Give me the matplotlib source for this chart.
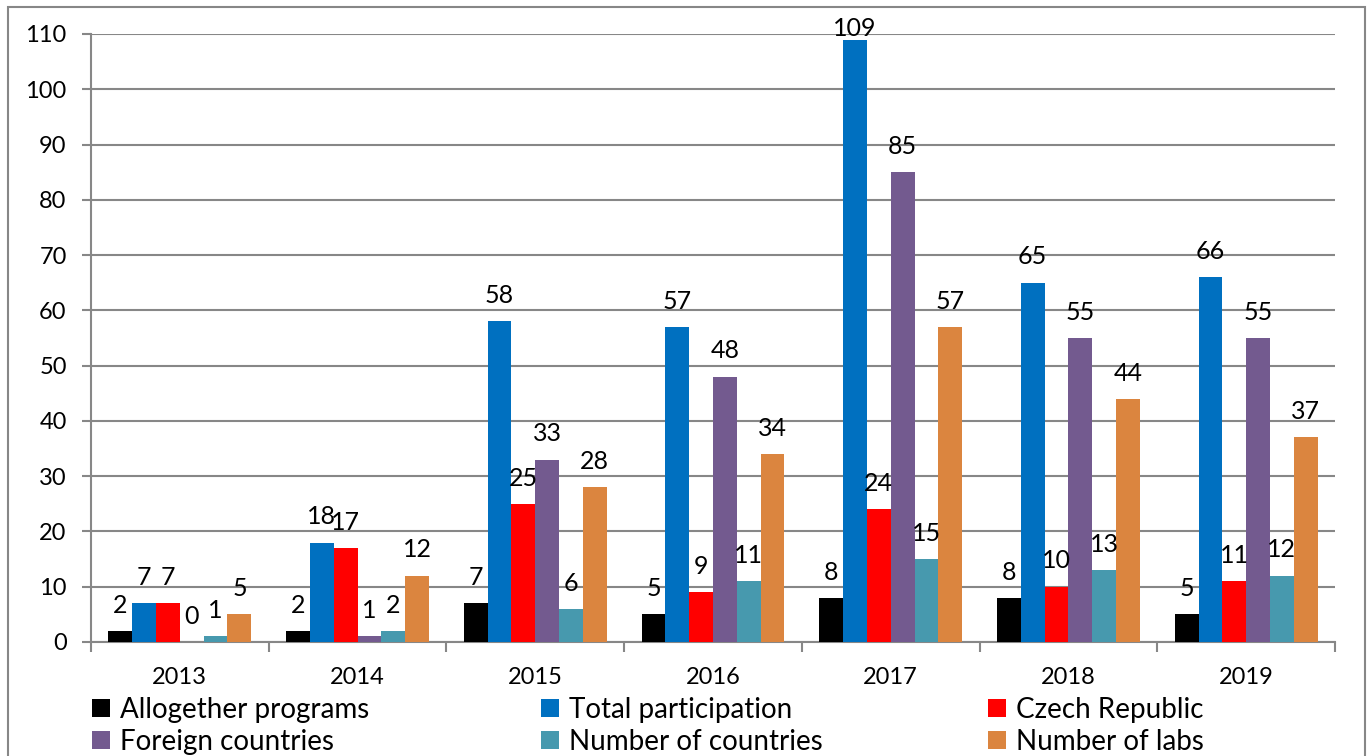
import matplotlib
matplotlib.use("Agg")
from matplotlib import pyplot as plt
from matplotlib.patches import Rectangle
import numpy as np

plt.rcParams.update({"font.family": ["Lato", "DejaVu Sans"], "font.size": 17})

years = ["2013", "2014", "2015", "2016", "2017", "2018", "2019"]
series_names = [
    "Allogether programs",
    "Total participation",
    "Czech Republic",
    "Foreign countries",
    "Number of countries",
    "Number of labs",
]
allogether = [2, 2, 7, 5, 8, 8, 5]
total_participation = [7, 18, 58, 57, 109, 65, 66]
czech = [7, 17, 25, 9, 24, 10, 11]
foreign = [0, 1, 33, 48, 85, 55, 55]
n_countries = [1, 2, 6, 11, 15, 13, 12]
n_labs = [5, 12, 28, 34, 57, 44, 37]
series = [allogether, total_participation, czech, foreign, n_countries, n_labs]
colors = ["#000000", "#0070C0", "#FF0000", "#735A8F", "#4799AE", "#DB853F"]

grid_color = "#878787"

fig = plt.figure(figsize=(13.69, 7.56), dpi=100)
ax = fig.add_axes([91 / 1369, 1 - 642 / 756, (1335 - 91) / 1369, (642 - 34) / 756])

x = np.arange(len(years))
bar_w = 0.134
handles = []
for i, (vals, col) in enumerate(zip(series, colors)):
    offs = (i - 2.5) * bar_w
    bars = ax.bar(x + offs, vals, bar_w, color=col, label=series_names[i], zorder=3)
    handles.append(bars)
    for xi, v in zip(x + offs, vals):
        # labels sit above the bar, but are kept inside the plot area (like excel)
        y_lab = min(v + 3.3, 109.6)
        ax.text(xi, y_lab, str(v), ha="center", va="baseline", fontsize=18,
                zorder=4, clip_on=False)

ax.set_xlim(-0.5, len(years) - 0.5)
ax.set_ylim(0, 110)
ax.set_yticks(np.arange(0, 111, 10))
ax.yaxis.grid(True, color=grid_color, linewidth=1.5, zorder=0)
ax.set_xticks(x)
ax.set_xticklabels(years)
ax.set_xticks(np.arange(-0.5, len(years)), minor=True)
ax.tick_params(axis="x", which="major", length=0, pad=18)
ax.tick_params(axis="x", which="minor", length=7, width=1.5, color=grid_color)
ax.tick_params(axis="y", length=6.5, width=1.5, color=grid_color, pad=11)
for s in ["top", "right"]:
    ax.spines[s].set_visible(False)
for s in ["left", "bottom"]:
    ax.spines[s].set_color(grid_color)
    ax.spines[s].set_linewidth(1.5)

# legend: three columns, two rows
col_x = [92 / 1369, 541 / 1369, 988 / 1369]
pairs = [(0, 3), (1, 4), (2, 5)]
for cx, (a, b) in zip(col_x, pairs):
    fig.legend([handles[a], handles[b]], [series_names[a], series_names[b]],
               loc="upper left", bbox_to_anchor=(cx, 1 - 697 / 756),
               frameon=False, fontsize=20, handlelength=0.65, handleheight=0.6,
               handletextpad=0.35, labelspacing=0.2, borderpad=0, borderaxespad=0)

# outer chart border
fig.patches.append(Rectangle((8 / 1369, -0.05), (1365 - 8) / 1369, 1 - 7 / 756 + 0.05,
                             transform=fig.transFigure, fill=False,
                             edgecolor=grid_color, linewidth=1.5))

fig.savefig("out.png", dpi=100)
